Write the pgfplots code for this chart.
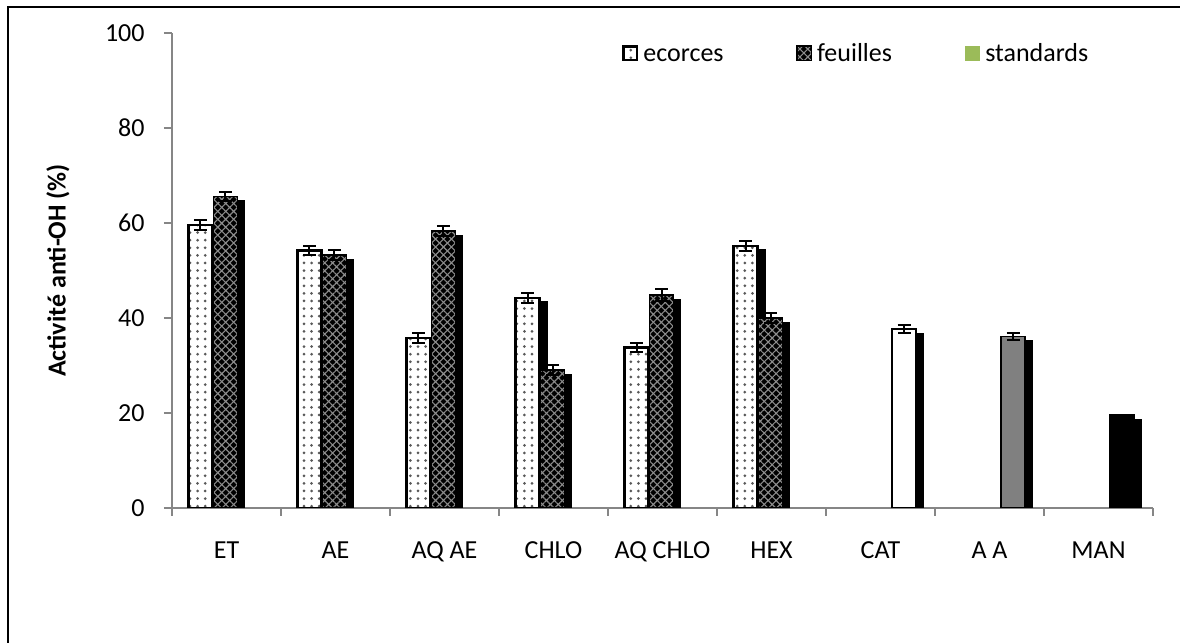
\documentclass[border=0pt]{standalone}
\usepackage{fontspec}
\setmainfont{Carlito}
\usepackage{pgfplots}
\pgfplotsset{compat=1.18}
\usetikzlibrary{patterns,patterns.meta,shadows}
\definecolor{axgray}{HTML}{868686}
\definecolor{stdgreen}{HTML}{9BBB59}
\tikzset{
 shad/.style={drop shadow={shadow xshift=3.5pt, shadow yshift=-2.25pt, fill=black, opacity=1}},
 ecostyle/.style={fill=white, draw=black, line width=1.2pt, postaction={pattern={Dots[distance=3.8pt, radius=0.75pt]}, pattern color=black!65}},
 feustyle/.style={fill=black, draw=black, line width=0.8pt, postaction={pattern={Hatch[distance=2.8pt, line width=0.55pt, angle=45]}, pattern color=black!45}},
}
\begin{document}
\fontsize{13}{15.6}\selectfont
\begin{tikzpicture}[x=1pt,y=1pt]
\useasboundingbox (0,0) rectangle (590,321.5);
\draw[line width=1pt] (4,318) rectangle (600,-10);
\begin{axis}[
  at={(86pt,67.5pt)}, anchor=south west,
  scale only axis, width=490.5pt, height=237.5pt,
  xmin=-0.5, xmax=8.5, ymin=0, ymax=100,
  axis x line*=bottom, axis y line*=left,
  axis line style={axgray, line width=0.75pt},
  ytick={0,20,...,100},
  xtick={0,...,8},
  xticklabels={ET, AE, AQ AE, CHLO, AQ CHLO, HEX, CAT, A A, MAN},
  minor xtick={-0.5,0.5,...,8.5},
  tick align=outside,
  major tick length=4pt, minor tick length=4pt,
  tick style={axgray, line width=0.75pt},
  major x tick style={draw=none},
  /pgf/number format/assume math mode=true,
  ticklabel style={font=\fontsize{13}{15.6}\selectfont},
  yticklabel style={anchor=east, inner sep=0pt, xshift=-9.5pt},
  xticklabel style={anchor=base, inner sep=0pt, yshift=-21.2pt},
  every axis y label/.style={at={(axis description cs:-0.1162,0.5)}, rotate=90, anchor=center, font=\fontsize{13}{15.6}\selectfont\bfseries},
  ylabel={Activité anti-OH (\%)},
  legend columns=3,
  legend style={at={(0.4587,0.957)}, anchor=west, draw=none, fill=none, inner sep=0pt,
    font=\fontsize{13}{15.6}\selectfont, nodes={inner xsep=2.5pt, inner ysep=0pt, text height=10pt, text depth=2pt},
    /tikz/every even column/.append style={column sep=33.8pt}},
  error bars/error bar style={black, line width=1pt},
  error bars/error mark options={black, line width=1pt, mark size=3.25pt, rotate=90},
]
\addplot[ybar, bar width=12pt, bar shift=-13pt, shad, ecostyle, forget plot,
  error bars/.cd, y dir=both, y explicit, error bar style={xshift=-13pt}]
  coordinates {(0,59.6)+-(0,1) (1,54.2)+-(0,1) (2,35.8)+-(0,1) (3,44.2)+-(0,1) (4,33.8)+-(0,1) (5,55.2)+-(0,1)};
\addplot[ybar, bar width=12pt, bar shift=-0.5pt, shad, feustyle, forget plot,
  error bars/.cd, y dir=both, y explicit, error bar style={xshift=-0.5pt}]
  coordinates {(0,65.6)+-(0,1) (1,53.3)+-(0,1) (2,58.3)+-(0,1) (3,29.0)+-(0,1) (4,44.8)+-(0,1.3) (5,40.0)+-(0,1)};
\addplot[ybar, bar width=12pt, bar shift=11.75pt, shad, fill=white, draw=black, line width=0.8pt, forget plot,
  error bars/.cd, y dir=both, y explicit, error bar style={xshift=11.75pt}]
  coordinates {(6,37.7)+-(0,0.8)};
\addplot[ybar, bar width=12pt, bar shift=11.75pt, shad, fill=black!50, draw=black, line width=0.8pt, forget plot,
  error bars/.cd, y dir=both, y explicit, error bar style={xshift=11.75pt}]
  coordinates {(7,36.1)+-(0,0.7)};
\addplot[ybar, bar width=12pt, bar shift=11.75pt, shad, fill=black, draw=black, line width=0.8pt, forget plot]
  coordinates {(8,19.6)};
\addlegendimage{legend image code/.code={\draw[fill=white, draw=black, line width=1.2pt, postaction={pattern={Dots[distance=3.8pt, radius=0.75pt]}, pattern color=black!65}] (0.6pt,-3.4pt) rectangle (7.4pt,3.4pt);}}
\addlegendentry{ecorces}
\addlegendimage{legend image code/.code={\draw[fill=black, draw=black, line width=0.8pt, postaction={pattern={Hatch[distance=2.8pt, line width=0.55pt, angle=45]}, pattern color=black!45}] (0.4pt,-3.6pt) rectangle (7.6pt,3.6pt);}}
\addlegendentry{feuilles}
\addlegendimage{legend image code/.code={\fill[stdgreen] (0pt,-3.6pt) rectangle (7.4pt,3.6pt);}}
\addlegendentry{standards}
\end{axis}
\end{tikzpicture}
\end{document}
